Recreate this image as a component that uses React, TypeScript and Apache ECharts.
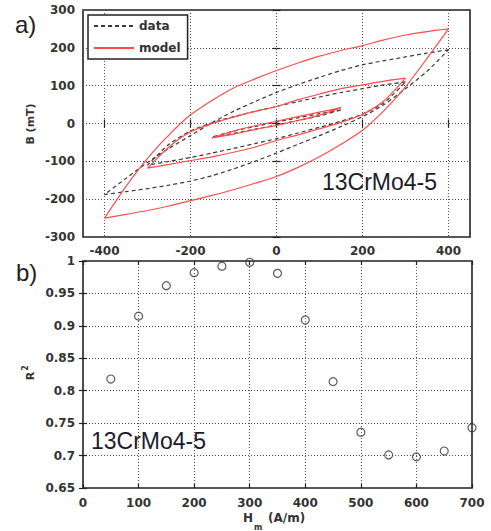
import React, { useEffect, useRef } from "react";
import * as echarts from "echarts";

// ---- (a) hysteresis loops: field H (A/m) and induction B (mT) ----
const H_400_DESC = [400, 350, 300, 250, 200, 150, 100, 50, 0, -50, -100, -150, -200, -250, -300, -350, -400];
const H_400_ASC = [-400, -350, -300, -250, -200, -150, -100, -50, 0, 50, 100, 150, 200, 250, 300, 350, 400];
const H_300_DESC = [300, 250, 200, 150, 100, 50, 0, -50, -100, -150, -200, -250, -300];
const H_300_ASC = [-300, -250, -200, -150, -100, -50, 0, 50, 100, 150, 200, 250, 300];
const H_150_DESC = [150, 100, 50, 0, -50, -100, -150];
const H_150_ASC = [-150, -100, -50, 0, 50, 100, 150];

const MODEL_400_DESC_B = [250, 243, 234, 221, 206, 193, 178, 160, 140, 118, 94, 61, 23, -30, -92, -166, -250];
const MODEL_400_ASC_B = [-250, -240, -230, -218, -204, -190, -175, -158, -140, -116, -88, -55, -18, 34, 97, 172, 250];
const MODEL_300_DESC_B = [120, 112, 102, 92, 78, 63, 45, 32, 17, 0, -22, -62, -118];
const MODEL_300_ASC_B = [-118, -108, -98, -88, -76, -62, -45, -30, -14, 3, 24, 60, 120];
const MODEL_150_DESC_B = [42, 30, 18, 6, -6, -20, -38];
const MODEL_150_ASC_B = [-38, -28, -16, -5, 8, 22, 42];

const DATA_400_DESC_B = [195, 186, 176, 166, 155, 140, 122, 103, 82, 58, 32, 2, -32, -66, -103, -145, -188];
const DATA_400_ASC_B = [-188, -180, -172, -163, -152, -138, -120, -100, -78, -55, -32, -8, 18, 50, 92, 138, 195];
const DATA_300_DESC_B = [110, 102, 92, 82, 70, 58, 45, 32, 18, 2, -20, -55, -110];
const DATA_300_ASC_B = [-110, -100, -90, -78, -66, -53, -40, -25, -10, 6, 25, 55, 110];
const DATA_150_DESC_B = [36, 26, 15, 4, -8, -20, -36];
const DATA_150_ASC_B = [-36, -26, -15, -4, 8, 20, 36];

const X_TICKS_A = [-400, -200, 0, 200, 400];

// ---- (b) coefficient of determination vs. Hm ----
const R2_HM = [50, 100, 150, 200, 250, 300, 350, 400, 450, 500, 550, 600, 650, 700];
const R2_VALUES = [0.818, 0.915, 0.962, 0.982, 0.992, 0.998, 0.981, 0.909, 0.814, 0.736, 0.701, 0.698, 0.707, 0.743];

const zip = (h: number[], b: number[]) => h.map((v, i) => [v, b[i]]);
const loop = (hd: number[], bd: number[], ha: number[], ba: number[]) => [...zip(hd, bd), ...zip(ha, ba)];

const FONT = "DejaVu Sans";
const LABEL = { fontFamily: FONT, fontSize: 12, fontWeight: "bold" as const, color: "#333" };
const DOT = { color: "#555", width: 1.1, type: [1, 2] as number[] };
const RED = "#ff4b4b";
const BLACK = "#3a3a3a";

export default function App() {
  const ref = useRef<HTMLDivElement>(null);
  useEffect(() => {
    if (!ref.current) return;
    const chart = echarts.init(ref.current, undefined, { renderer: "svg" });

    const tick = { show: true, inside: true, length: 4, lineStyle: { color: "#222", width: 1.2 } };
    const modelLine = (data: number[][]) => ({
      type: "line", name: "model", xAxisIndex: 0, yAxisIndex: 0, data, symbol: "none", smooth: 0.25,
      lineStyle: { color: RED, width: 1.2 }, itemStyle: { color: RED }, z: 3,
    });
    const dataLine = (data: number[][]) => ({
      type: "line", name: "data", xAxisIndex: 0, yAxisIndex: 0, data, symbol: "none", smooth: 0.25,
      lineStyle: { color: BLACK, width: 1.2, type: [4, 3] }, itemStyle: { color: BLACK }, z: 2,
    });

    chart.setOption({
      animation: false,
      backgroundColor: "#fff",
      grid: [
        { left: 83, top: 10, width: 387, height: 227, show: true, borderColor: "#222", borderWidth: 1.6, backgroundColor: "transparent" },
        { left: 83, top: 261, width: 389, height: 227, show: true, borderColor: "#222", borderWidth: 1.6, backgroundColor: "transparent" },
      ],
      legend: {
        left: 88, top: 15, orient: "vertical", data: ["data", "model"],
        itemWidth: 40, itemHeight: 10, itemGap: 10, padding: [5, 7, 5, 5],
        borderColor: "#222", borderWidth: 1.5, backgroundColor: "#fff",
        itemStyle: { opacity: 0, borderWidth: 0 },
        textStyle: { ...LABEL }, selectedMode: false,
      },
      xAxis: [
        {
          gridIndex: 0, type: "value", min: -450, max: 450,
          axisLine: { show: false }, axisTick: { ...tick, customValues: X_TICKS_A },
          axisLabel: { ...LABEL, margin: 8, customValues: X_TICKS_A },
          splitLine: { show: true, lineStyle: DOT },
        },
        {
          gridIndex: 0, type: "value", position: "top", min: -450, max: 450,
          axisLine: { show: false }, axisTick: { ...tick, customValues: X_TICKS_A },
          axisLabel: { show: false, customValues: X_TICKS_A }, splitLine: { show: false },
        },
        {
          gridIndex: 1, type: "value", min: 0, max: 700, interval: 100,
          axisLine: { show: false }, axisTick: tick,
          axisLabel: { ...LABEL, margin: 9 }, splitLine: { show: true, lineStyle: DOT },
        },
        {
          gridIndex: 1, type: "value", position: "top", min: 0, max: 700, interval: 100,
          axisLine: { show: false }, axisTick: tick, axisLabel: { show: false }, splitLine: { show: false },
        },
      ],
      yAxis: [
        {
          gridIndex: 0, type: "value", min: -300, max: 300, interval: 100,
          axisLine: { show: false }, axisTick: tick,
          axisLabel: { ...LABEL, margin: 8 }, splitLine: { show: true, lineStyle: DOT },
        },
        {
          gridIndex: 0, type: "value", position: "right", min: -300, max: 300, interval: 100,
          axisLine: { show: false }, axisTick: tick, axisLabel: { show: false }, splitLine: { show: false },
        },
        {
          gridIndex: 1, type: "value", min: 0.65, max: 1, interval: 0.05,
          axisLine: { show: false }, axisTick: tick,
          axisLabel: { ...LABEL, margin: 8 }, splitLine: { show: true, lineStyle: DOT },
        },
        {
          gridIndex: 1, type: "value", position: "right", min: 0.65, max: 1, interval: 0.05,
          axisLine: { show: false }, axisTick: tick, axisLabel: { show: false }, splitLine: { show: false },
        },
      ],
      series: [
        dataLine(loop(H_400_DESC, DATA_400_DESC_B, H_400_ASC, DATA_400_ASC_B)),
        dataLine(loop(H_300_DESC, DATA_300_DESC_B, H_300_ASC, DATA_300_ASC_B)),
        dataLine(loop(H_150_DESC, DATA_150_DESC_B, H_150_ASC, DATA_150_ASC_B)),
        modelLine(loop(H_400_DESC, MODEL_400_DESC_B, H_400_ASC, MODEL_400_ASC_B)),
        modelLine(loop(H_300_DESC, MODEL_300_DESC_B, H_300_ASC, MODEL_300_ASC_B)),
        modelLine(loop(H_150_DESC, MODEL_150_DESC_B, H_150_ASC, MODEL_150_ASC_B)),
        {
          type: "scatter", name: "R2", xAxisIndex: 2, yAxisIndex: 2,
          data: zip(R2_HM, R2_VALUES), symbol: "circle", symbolSize: 8, clip: false,
          itemStyle: { color: "transparent", borderColor: "#333", borderWidth: 1.2 },
        },
      ],
      graphic: [
        { type: "text", left: 15, top: 12, style: { text: "a)", font: "24px 'Liberation Sans'", fill: "#222" } },
        { type: "text", left: 16, top: 260, style: { text: "b)", font: "24px 'Liberation Sans'", fill: "#222" } },
        { type: "text", x: 322, y: 182, style: { text: "13CrMo4-5", font: "23px 'Liberation Sans'", fill: "#1c1c2c", textVerticalAlign: "middle" } },
        { type: "text", x: 91, y: 441, style: { text: "13CrMo4-5", font: "23px 'Liberation Sans'", fill: "#1c1c2c", textVerticalAlign: "middle" } },
        { type: "text", x: 30, y: 124, rotation: Math.PI / 2, style: { text: "B (mT)", font: `bold 11px '${FONT}'`, fill: "#333", textAlign: "center", textVerticalAlign: "middle" } },
        { type: "text", x: 30, y: 376, rotation: Math.PI / 2, style: { text: "R", font: `bold 11px '${FONT}'`, fill: "#333", textAlign: "center", textVerticalAlign: "middle" } },
        { type: "text", x: 25, y: 368, rotation: Math.PI / 2, style: { text: "2", font: `bold 8px '${FONT}'`, fill: "#333", textAlign: "center", textVerticalAlign: "middle" } },
        { type: "text", x: 243, y: 518, style: { text: "H", font: `bold 12px '${FONT}'`, fill: "#333", textVerticalAlign: "middle" } },
        { type: "text", x: 254, y: 527, style: { text: "m", font: `bold 8px '${FONT}'`, fill: "#333", textVerticalAlign: "middle" } },
        { type: "text", x: 268, y: 518, style: { text: "(A/m)", font: `bold 12px '${FONT}'`, fill: "#333", textVerticalAlign: "middle" } },
      ],
    });
    return () => chart.dispose();
  }, []);
  return <div ref={ref} style={{ position: "absolute", left: 0, top: 0, width: 491, height: 531 }} />;
}
